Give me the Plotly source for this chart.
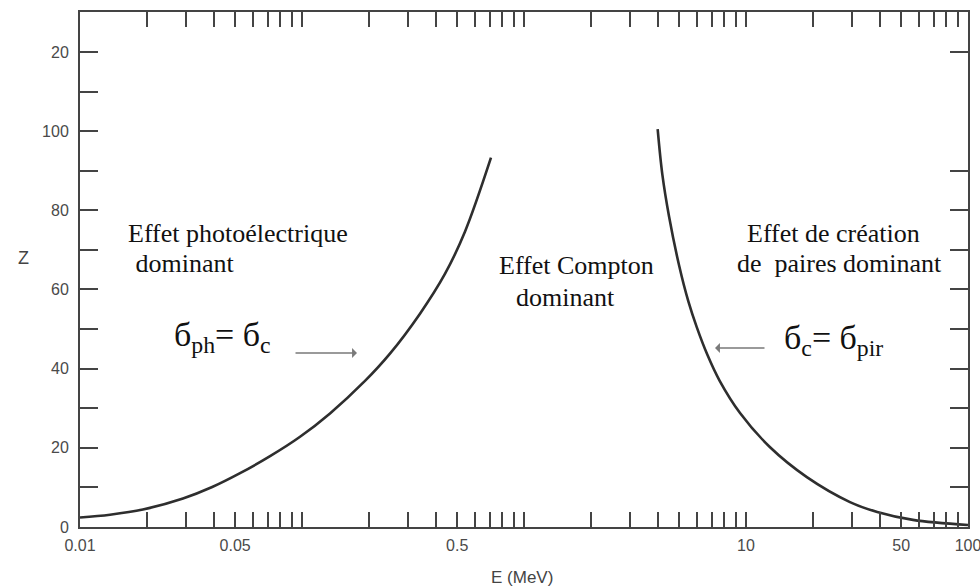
import plotly.graph_objects as go

# Boundary sigma_ph = sigma_c (photoelectric / Compton)
e_photo = [0.0100, 0.01365, 0.0192, 0.0291, 0.0394, 0.0526, 0.0718, 0.098, 0.1337,
           0.1922, 0.249, 0.340, 0.441, 0.542, 0.710]
z_photo = [2.4, 3.1, 4.4, 7.2, 10.1, 13.6, 17.9, 22.8, 28.7,
           36.9, 43.8, 53.9, 64.0, 74.6, 93.3]

# Boundary sigma_c = sigma_pir (Compton / pair production)
e_pair = [4.0, 4.2, 4.5, 5.0, 5.5, 6.0, 6.7, 7.6, 9.4, 12.8, 18.8, 29.4, 39.0, 56.5, 100.0]
z_pair = [100.5, 89.0, 78.5, 66.0, 57.0, 50.5, 43.5, 37.0, 28.8, 20.2, 12.6, 6.3, 3.8, 1.8, 0.5]

# Energy axis ticks (every integer multiple per decade) and their labels
x_tick_vals = [round(m * 10 ** k, 4) for k in range(-2, 2) for m in range(1, 10)] + [100.0]
x_tick_labels = {0.01: "0.01", 0.05: "0.05", 0.5: "0.5", 10.0: "10", 50.0: "50", 100.0: "100"}

# Z axis ticks
y_tick_vals = list(range(0, 130, 10))
y_tick_labels = {0: "0", 20: "20", 40: "40", 60: "60", 80: "80", 100: "100", 120: "20"}
y_right_ticks = [10, 20, 30, 40, 50, 60, 70, 80, 90, 120]

AX = "#444444"
LINE = "#2e2e2e"
SERIF = "Liberation Serif"
SANS = "Liberation Sans"

fig = go.Figure()
for ex, zy in [(e_photo, z_photo), (e_pair, z_pair)]:
    fig.add_trace(go.Scatter(x=ex, y=zy, mode="lines",
                             line=dict(color=LINE, width=2.6, shape="spline", smoothing=1.0),
                             hoverinfo="skip", showlegend=False))
# invisible trace to activate the right-hand tick axis
fig.add_trace(go.Scatter(x=[0.01], y=[0], yaxis="y2", mode="markers",
                         marker=dict(opacity=0), hoverinfo="skip", showlegend=False))

L, R, T, B = 80, 12, 12, 60
W, H = 980, 587
pw, ph = W - L - R, H - T - B


def px(x):
    return (x - L) / pw


def py(y):
    return (H - B - y) / ph


notes = [
    ("Effet photoélectrique", 126, 233),
    (" dominant", 127, 263),
    ("Effet Compton", 497, 265),
    ("dominant", 514, 297),
    ("Effet de création", 745, 233),
    ("de  paires dominant", 735, 263),
]
for txt, x0, y0 in notes:
    fig.add_annotation(x=px(x0), y=py(y0), xref="paper", yref="paper", text=txt,
                       showarrow=False, xanchor="left", yanchor="middle",
                       font=dict(family=SERIF, size=26, color="#111111"))

fig.add_annotation(x=px(172), y=py(337), xref="paper", yref="paper",
                   text="б<sub>ph</sub>= б<sub>c</sub>", showarrow=False,
                   xanchor="left", yanchor="middle",
                   font=dict(family=SERIF, size=34, color="#111111"))
fig.add_annotation(x=px(782), y=py(340), xref="paper", yref="paper",
                   text="б<sub>c</sub>= б<sub>pir</sub>", showarrow=False,
                   xanchor="left", yanchor="middle",
                   font=dict(family=SERIF, size=34, color="#111111"))

# pointer arrows toward each boundary
for tip_x, tail_x, yy in [(357, 294, 353), (715, 766, 348)]:
    fig.add_annotation(x=px(tip_x), y=py(yy), ax=px(tail_x), ay=py(yy),
                       xref="x domain", yref="y domain",
                       axref="x domain", ayref="y domain",
                       text="", showarrow=True, arrowhead=1, arrowsize=1.1,
                       arrowwidth=1.5, arrowcolor="#7a7a7a")

# axis titles: upright Z on the left, energy below
fig.add_annotation(x=px(16), y=py(258), xref="paper", yref="paper", text="Z",
                   showarrow=False, font=dict(family=SANS, size=18, color="#444444"))
fig.add_annotation(x=px(522), y=py(577), xref="paper", yref="paper", text="E (MeV)",
                   showarrow=False, yanchor="middle",
                   font=dict(family=SANS, size=17, color="#444444"))

fig.update_layout(
    width=W, height=H,
    margin=dict(l=L, r=R, t=T, b=B),
    paper_bgcolor="white", plot_bgcolor="white",
    xaxis=dict(
        type="log", range=[-2, 2], automargin=False,
        tickmode="array", tickvals=x_tick_vals,
        ticktext=[x_tick_labels.get(v, "") for v in x_tick_vals],
        ticks="inside", ticklen=15, tickwidth=2, tickcolor=AX,
        showline=True, linewidth=2, linecolor=AX, mirror="ticks",
        showgrid=False, zeroline=False,
        tickfont=dict(family=SANS, size=16, color="#4a4a4a"),
        ticklabelstandoff=3, ticklabeloverflow="allow",
    ),
    yaxis=dict(
        range=[0, 130.1], automargin=False,
        tickmode="array", tickvals=y_tick_vals,
        ticktext=[y_tick_labels.get(v, "") for v in y_tick_vals],
        ticks="inside", ticklen=18, tickwidth=2, tickcolor=AX,
        showline=True, linewidth=2, linecolor=AX,
        showgrid=False, zeroline=False,
        tickfont=dict(family=SANS, size=16, color="#4a4a4a"),
        ticklabelstandoff=6,
    ),
    yaxis2=dict(
        overlaying="y", side="right", range=[0, 130.1], automargin=False,
        tickmode="array", tickvals=y_right_ticks, showticklabels=False,
        ticks="inside", ticklen=18, tickwidth=2, tickcolor=AX,
        showline=True, linewidth=2, linecolor=AX,
        showgrid=False, zeroline=False,
    ),
)

fig.write_html("out.html")
